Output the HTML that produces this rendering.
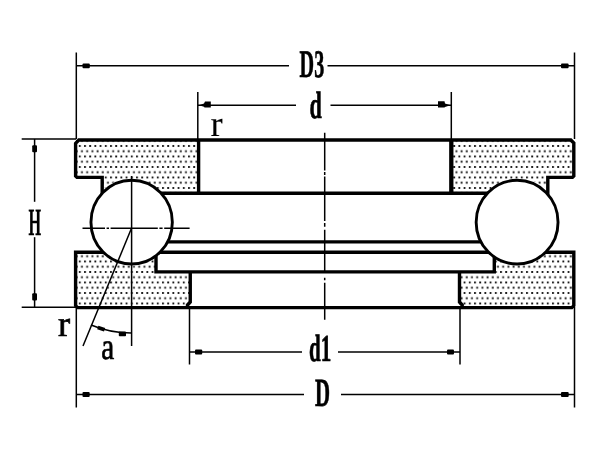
<!DOCTYPE html>
<html><head><meta charset="utf-8"><title>Thrust ball bearing</title>
<style>
html,body{margin:0;padding:0;background:#fff;}
body{width:600px;height:450px;overflow:hidden;}
svg{display:block;will-change:transform;}
text{font-family:"Liberation Serif",serif;fill:#000;stroke:#000;stroke-width:0.3;text-rendering:geometricPrecision;}
g.n text{stroke-width:0.1;}
g.m text{stroke-width:0.7;}
g.h text{stroke-width:0.7;}
.tk{stroke:#000;stroke-width:3.4;fill:none;stroke-linecap:butt;stroke-linejoin:miter;}
.tn{stroke:#000;stroke-width:1.5;fill:none;}
.bl{fill:#000;}
</style></head>
<body>
<svg width="600" height="450" viewBox="0 0 600 450">
<defs>
<pattern id="dots" x="78.8" y="145.0" width="5.2" height="10.5" patternUnits="userSpaceOnUse">
<rect x="0.05" y="0.05" width="1.85" height="1.85" fill="#111"/>
<rect x="2.25" y="5.3" width="1.85" height="1.85" fill="#111"/>
</pattern>
</defs>
<rect width="600" height="450" fill="#fff"/>

<!-- hatched sections -->
<g fill="url(#dots)" stroke="none">
<path d="M76 139.5 H198.5 V193.3 H160 A40.5 41.7 0 0 0 102 190 V177 H76 Z"/>
<path d="M451.5 139.5 H574 V177 H547.5 V190 A40.5 41.7 0 0 0 489 193.3 H451.5 Z"/>
<path d="M76 252.3 H103 A40.5 41.7 0 0 0 156 258 V271.9 H190.5 V307.6 H76 Z"/>
<path d="M574 252.3 H546 A40.5 41.7 0 0 1 494.3 258 V271.9 H459.5 V307.6 H574 Z"/>
</g>

<!-- thick outline -->
<g class="tk">
<path d="M102.2 196 V177.4 H77 L75.6 176 V143.4 L78.8 140 H570.8 L573.8 143 V176 L572.4 177.4 H547.8 V196"/>
<path d="M110 252.3 H75.6 V305.6 L77.6 307.6 H571.8 L573.8 305.6 V252.3 H540"/>
<path d="M198.6 139.3 V193.3"/>
<path d="M451.3 139.3 V193.3" style="stroke-width:4.3"/>
<path d="M150 193.3 H499"/>
<path d="M160 241.9 H490"/>
<path d="M150 252.3 H498"/>
<path d="M156 250 V271.9 H494.3 V250"/>
<path d="M190.25 271 V302 L187.5 305 V307"/>
<path d="M459.5 271 V302 L462.2 305 V307"/>
</g>

<!-- balls -->
<ellipse cx="131.65" cy="222.15" rx="40.7" ry="41.85" class="tk" style="stroke-width:2.9;fill:#fff"/>
<ellipse cx="517.1" cy="222.15" rx="40.95" ry="41.85" class="tk" style="stroke-width:2.9;fill:#fff"/>

<!-- thin lines -->
<g class="tn">
<path d="M76.3 52.5 V139"/>
<path d="M574.5 52.5 V139"/>
<path d="M76.3 307 V407.5"/>
<path d="M574.5 307 V407.5"/>
<path d="M197.8 92 V139"/>
<path d="M451.3 92 V139"/>
<path d="M189.5 307 V364.5"/>
<path d="M460 307 V364.5"/>
<path d="M21.7 139 H76"/>
<path d="M21.7 307.2 H76"/>
<path d="M34.6 139 V201.8"/>
<path d="M34.6 237.2 V307.2"/>
<path d="M76 65.7 H289"/>
<path d="M327.5 65.7 H574.5"/>
<path d="M198 105.3 H296"/>
<path d="M330.5 105.3 H451"/>
<path d="M189.5 352 H302"/>
<path d="M338 352 H460"/>
<path d="M76 394.5 H304"/>
<path d="M341 394.5 H574.5"/>
<path d="M131.6 176 V346"/>
<path d="M131.6 228 L83 346"/>
<path d="M82.5 228.2 H189.6" stroke-dasharray="22.5 1.6 2.4 1.6 47.2 1.6 3.2 1.6 30"/>
<path d="M324.7 132.8 V320" stroke-dasharray="37.7 1.5 3 1.5 44.5 2 3.7 3 42 6 2.5 2.5 37"/>
<path d="M91 325 A105 105 0 0 0 131.6 333"/>
</g>

<!-- arrow blobs -->
<g class="bl">
<rect x="82.5" y="63.4" width="7.3" height="4.9" rx="1"/>
<rect x="561" y="63.4" width="7.6" height="4.9" rx="1"/>
<path d="M199 105.2 L204 103.4 L205 101.6 H210.8 V107.6 H204.5 L204 106.8 Z"/>
<path d="M450.3 105.2 L445 103.4 L444.5 101.3 H438 V107.5 H444.5 L445 106.9 Z"/>
<rect x="195" y="349.6" width="7.2" height="4.8" rx="1"/>
<rect x="447" y="349.6" width="7" height="4.8" rx="1"/>
<rect x="82.5" y="392.1" width="7.2" height="4.8" rx="1"/>
<rect x="561" y="392.1" width="7.7" height="4.8" rx="1"/>
<rect x="32.2" y="145.3" width="4.8" height="7" rx="1"/>
<rect x="32.2" y="293.3" width="4.8" height="7.2" rx="1"/>
<rect x="118.8" y="331.6" width="7.2" height="4.6" rx="0.8"/>
<rect x="-3.6" y="-1.9" width="7.2" height="3.8" transform="translate(101.2 328.6) rotate(19)"/>
</g>

<!-- labels -->
<g font-weight="bold" class="h">
<text x="299.6" y="77.3" font-size="39" textLength="24.6" lengthAdjust="spacingAndGlyphs">D3</text>
<text x="309.6" y="117.9" font-size="38" textLength="12.3" lengthAdjust="spacingAndGlyphs">d</text>
<text x="309" y="361.2" font-size="38" textLength="22.3" lengthAdjust="spacingAndGlyphs">d1</text>
<text x="315" y="405.8" font-size="40" textLength="15" lengthAdjust="spacingAndGlyphs">D</text>
</g>
<g font-weight="bold">
<text x="28.5" y="234.7" font-size="38.5" textLength="12.6" lengthAdjust="spacingAndGlyphs">H</text>
</g>
<g class="n">
<text x="210.6" y="136" font-size="36.5">r</text>
</g>
<g class="m">
<text x="58" y="335.8" font-size="36.5">r</text>
<text x="101.2" y="358.6" font-size="37.5" textLength="13" lengthAdjust="spacingAndGlyphs">a</text>
</g>
</svg>
</body></html>
